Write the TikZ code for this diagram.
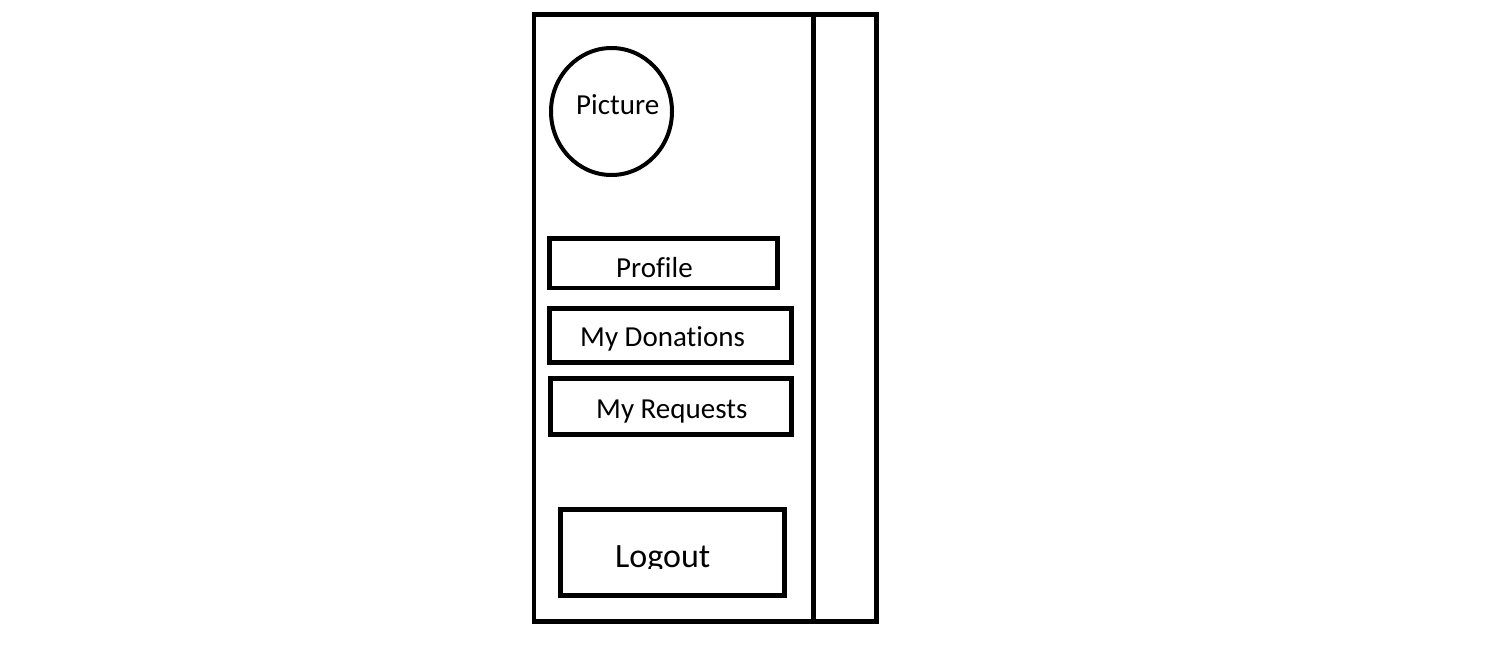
\documentclass[tikz,border=0pt]{standalone}
\usepackage{fontspec}
\setmainfont{Carlito}[Ligatures=NoCommon]
\begin{document}
\begin{tikzpicture}[x=1pt,y=-1pt,
  frame/.style={draw=black,line width=4.8pt},
  menubox/.style={draw=black,line width=4.8pt},
  avatar/.style={draw=black,line width=4pt},
  menutext/.style={inner sep=0pt,anchor=base west,font=\fontsize{29}{31}\selectfont},
  bigtext/.style={inner sep=0pt,anchor=base west,font=\fontsize{34}{36}\selectfont}]
\useasboundingbox[fill=white] (0,0) rectangle (1496,651);
% outer panel
\draw[frame] (534,14.5) rectangle (876.5,621.5);
\draw[frame] (813.5,14.5) -- (813.5,621.5);
\draw[line width=2pt] (534,622.5) -- (813.5,622.5);
% picture circle
\draw[avatar] (611.5,111.5) ellipse [x radius=60.5, y radius=63.5];
\node[menutext] (pic) at (576,114) {Picture};
% menu boxes
\draw[menubox] (549.5,238.5) rectangle (777.5,288);
\node[menutext] (profile) at (616,277) {Profile};
\draw[menubox] (549.5,308.5) rectangle (791.5,362.5);
\node[menutext] (don) at (580,346) {My Donations};
\draw[menubox] (550.5,378.5) rectangle (791.5,434.5);
\node[menutext] (req) at (596,418.5) {My Requests};
% logout
\draw[menubox] (560.5,509.5) rectangle (784.5,595.5);
\begin{scope}
\clip (565,520) rectangle (780,568.5);
\node[bigtext] (logout) at (615,567) {Logout};
\end{scope}
\end{tikzpicture}
\end{document}
